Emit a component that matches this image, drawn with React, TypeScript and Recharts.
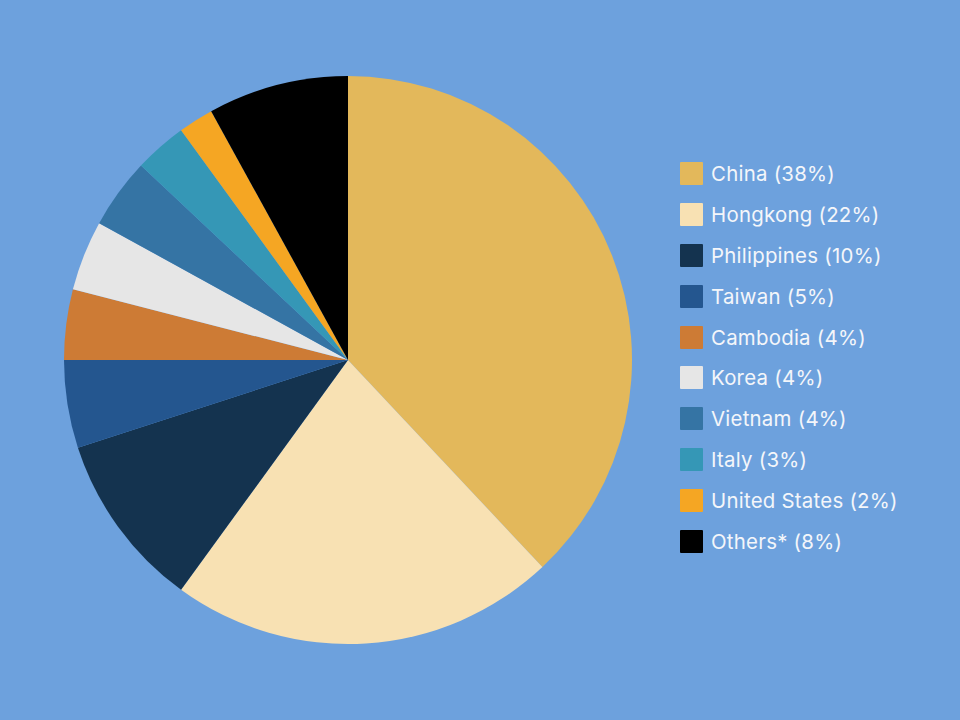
import { PieChart, Pie, Cell, Legend } from "recharts";

const countries = [
  "China",
  "Hongkong",
  "Philippines",
  "Taiwan",
  "Cambodia",
  "Korea",
  "Vietnam",
  "Italy",
  "United States",
  "Others*",
];
const shares = [38, 22, 10, 5, 4, 4, 4, 3, 2, 8];
const colors = [
  "#E3B85B",
  "#F8E1B3",
  "#14334F",
  "#24568F",
  "#CD7B35",
  "#E6E6E6",
  "#3574A4",
  "#3597B6",
  "#F5A623",
  "#000000",
];

const data = countries.map((name, i) => ({ name, value: shares[i] }));

function LegendList() {
  return (
    <div style={{ fontFamily: "Inter, sans-serif" }}>
      {data.map((d, i) => (
        <div
          key={d.name}
          style={{ display: "flex", alignItems: "center", height: 40.9 }}
        >
          <div
            style={{
              width: 23,
              height: 23,
              background: colors[i],
              borderRadius: 1,
              marginRight: 8,
            }}
          />
          <span style={{ fontSize: 20.4, letterSpacing: 0.25, color: "#F4F6FA" }}>
            {d.name} ({d.value}%)
          </span>
        </div>
      ))}
    </div>
  );
}

export default function App() {
  return (
    <div
      style={{
        position: "fixed",
        left: 0,
        top: 0,
        width: 960,
        height: 720,
        background: "#6DA1DD",
      }}
    >
      <PieChart width={960} height={720} margin={{ top: 0, right: 0, bottom: 0, left: 0 }}>
        <Pie
          data={data}
          dataKey="value"
          nameKey="name"
          cx={348}
          cy={360}
          outerRadius={284}
          startAngle={90}
          endAngle={-270}
          stroke="none"
          isAnimationActive={false}
        >
          {data.map((d, i) => (
            <Cell key={d.name} fill={colors[i]} />
          ))}
        </Pie>
        <Legend
          layout="vertical"
          content={() => <LegendList />}
          wrapperStyle={{ left: 680, top: 153, width: 270 }}
        />
      </PieChart>
    </div>
  );
}
